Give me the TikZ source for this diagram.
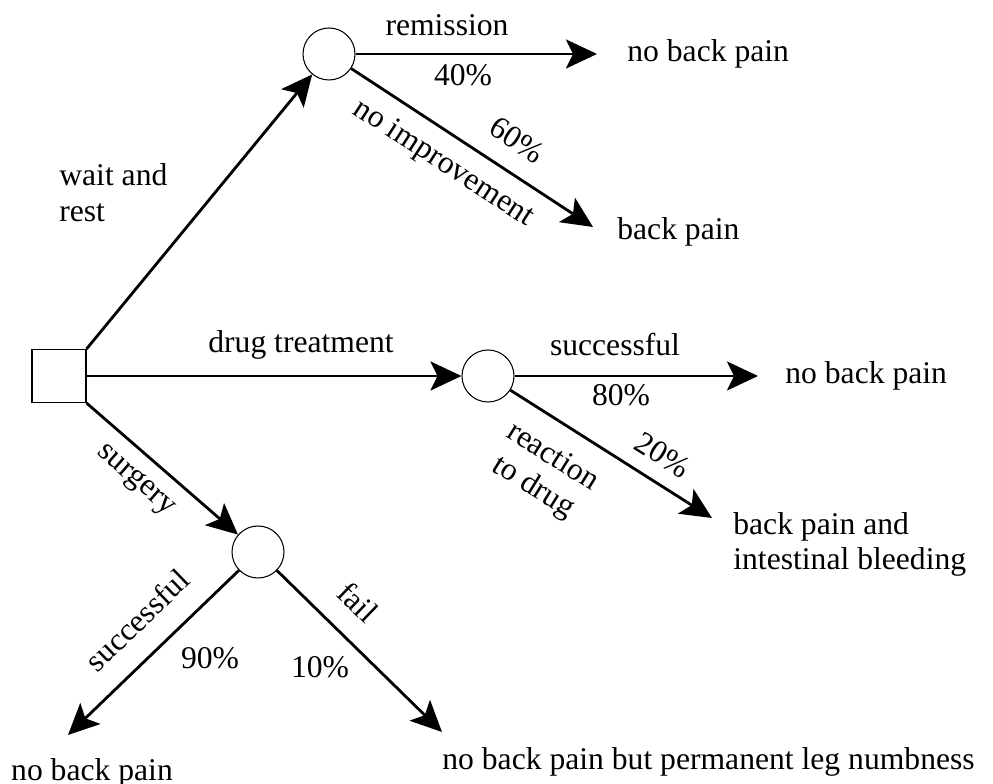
\documentclass[tikz,border=0pt]{standalone}
\usepackage{fontspec}
\setmainfont{Liberation Serif}
\usetikzlibrary{arrows.meta,positioning}

\tikzset{
  decision/.style={rectangle,draw,line width=0.6pt,minimum width=1.08cm,minimum height=1.06cm,inner sep=0pt},
  chance/.style={circle,draw,line width=0.6pt,minimum size=1.04cm,inner sep=0pt},
  branch/.style={-{Stealth[length=0.62cm,width=0.58cm,inset=0.14cm]},line width=1.6pt},
  lbl/.style={inner sep=0pt}
}

\begin{document}
\begin{tikzpicture}[font=\fontsize{18}{20.4}\selectfont]
    \useasboundingbox (0,0) rectangle (19.86,15.68);

    % Decision node and chance nodes
    \node[decision] (dec) at (1.18,8.16) {};
    \node[chance] (wait) at (6.58,14.60) {};
    \node[chance] (drug) at (9.76,8.16) {};
    \node[chance] (surg) at (5.16,4.64) {};

    % Ends of the outcome arrows
    \coordinate (remEnd) at (11.94,14.60);
    \coordinate (noimpEnd) at (11.86,11.14);
    \coordinate (sucEnd) at (15.16,8.16);
    \coordinate (reacEnd) at (14.24,5.32);
    \coordinate (okEnd) at (1.36,0.98);
    \coordinate (failEnd) at (8.84,1.04);

    % Branches
    \draw[branch] (dec.north east) -- (wait);
    \draw[branch] (dec.east) -- (drug.west);
    \draw[branch] (dec.south east) -- (surg);
    \draw[branch] (wait) -- (remEnd);
    \draw[branch] (wait) -- (noimpEnd);
    \draw[branch] (drug) -- (sucEnd);
    \draw[branch] (drug) -- (reacEnd);
    \draw[branch] (surg) -- (okEnd);
    \draw[branch] (surg) -- (failEnd);

    % Wait and rest
    \node[lbl,anchor=west,align=left] (waitTxt) at (1.18,11.82) {wait and\\rest};
    \node[lbl] (remTxt) at (8.94,15.18) {remission};
    \node[lbl] (p40) at (9.26,14.18) {40\%};
    \node[lbl,anchor=west] (remOut) at (12.54,14.60) {no back pain};
    \node[lbl,rotate=-33] (noimpTxt) at (8.86,12.40) {no improvement};
    \node[lbl,rotate=-33] (p60) at (10.34,12.88) {60\%};
    \node[lbl,anchor=west] (noimpOut) at (12.34,11.04) {back pain};

    % Drug treatment
    \node[lbl] (drugTxt) at (6.02,8.78) {drug treatment};
    \node[lbl] (sucTxt) at (12.30,8.78) {successful};
    \node[lbl] (p80) at (12.42,7.78) {80\%};
    \node[lbl,anchor=west] (sucOut) at (15.70,8.16) {no back pain};
    \node[lbl,rotate=-32,align=center] (reacTxt) at (10.85,6.22) {reaction\\to drug};
    \node[lbl,rotate=-32] (p20) at (13.26,6.58) {20\%};
    \node[lbl,anchor=west,align=left] (reacOut) at (14.66,4.79) {back pain and\\intestinal bleeding};

    % Surgery
    \node[lbl,rotate=-41] (surgTxt) at (2.70,6.06) {surgery};
    \node[lbl,rotate=44] (okTxt) at (2.74,3.28) {successful};
    \node[lbl] (p90) at (4.20,2.52) {90\%};
    \node[lbl,rotate=-44] (failTxt) at (7.16,3.64) {fail};
    \node[lbl] (p10) at (6.40,2.34) {10\%};
    \node[lbl,anchor=base] (okOut) at (1.84,0.06) {no back pain};
    \node[lbl,anchor=base west] (failOut) at (8.84,0.28) {no back pain but permanent leg numbness};

\end{tikzpicture}
\end{document}
